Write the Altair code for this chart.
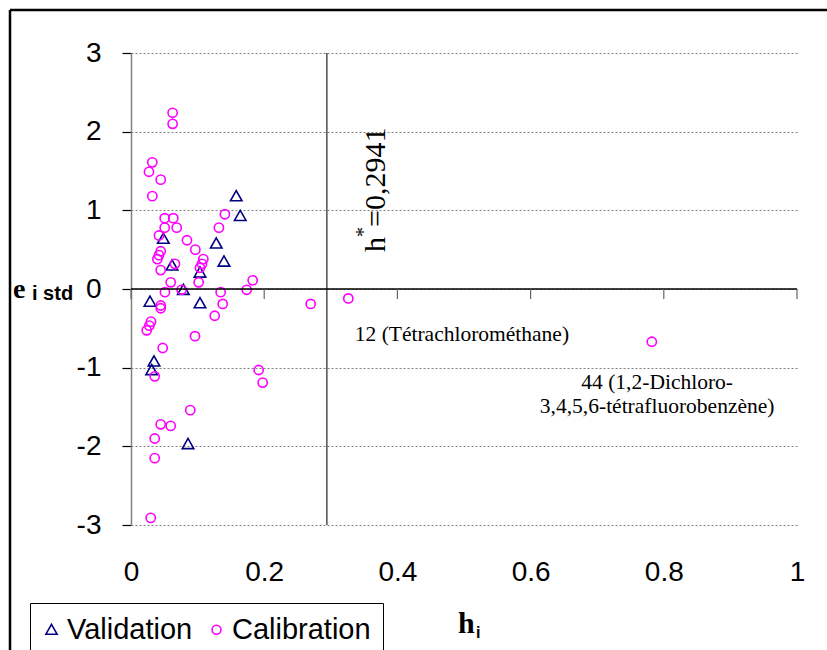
import altair as alt
import pandas as pd

SANS = "Liberation Sans"
SERIF = "Liberation Serif"

# ---- data ----
cal_h = [0.0625, 0.0625, 0.032, 0.027, 0.0446, 0.032, 0.141, 0.0506, 0.0635, 0.132,
         0.0506, 0.0686, 0.042, 0.084, 0.0966, 0.0446, 0.042, 0.0396, 0.1086, 0.066,
         0.1066, 0.1036, 0.0446, 0.1016, 0.0596, 0.1827, 0.1737, 0.076, 0.051, 0.1346,
         0.0446, 0.0446, 0.1377, 0.1257, 0.030, 0.0275, 0.0236, 0.0961, 0.0476, 0.0356,
         0.1917, 0.1977, 0.089, 0.0446, 0.0596, 0.0356, 0.0356, 0.0296, 0.2698, 0.3263,
         0.782]
cal_e = [2.24, 2.10, 1.61, 1.49, 1.39, 1.18, 0.95, 0.90, 0.90, 0.78,
         0.78, 0.78, 0.68, 0.62, 0.50, 0.48, 0.43, 0.38, 0.38, 0.32,
         0.32, 0.27, 0.24, 0.085, 0.085, 0.11, -0.01, -0.01, -0.04, -0.04,
         -0.21, -0.245, -0.19, -0.34, -0.415, -0.466, -0.525, -0.60, -0.75, -1.11,
         -1.03, -1.19, -1.54, -1.72, -1.74, -1.90, -2.15, -2.91, -0.19, -0.12,
         -0.67]
val_h = [0.158, 0.164, 0.0486, 0.128, 0.1396, 0.0616, 0.1036, 0.0786, 0.0285, 0.1036,
         0.0345, 0.031, 0.0856]
val_e = [1.18, 0.93, 0.64, 0.58, 0.35, 0.30, 0.21, -0.01, -0.16, -0.18,
         -0.92, -1.03, -1.97]

series_names = ["Validation", "Calibration"]
h_star = [0.2941]
x_ticks = [0, 0.2, 0.4, 0.6, 0.8, 1]
y_ticks = [-3, -2, -1, 0, 1, 2, 3]

ann12_h = [0.336]
ann12_e = [-0.585]
ann12_text = ["12 (Tétrachlorométhane)"]
ann44_h = [0.79, 0.79]
ann44_e = [-1.195, -1.50]
ann44_text = ["44 (1,2-Dichloro-", "3,4,5,6-tétrafluorobenzène)"]

hs_h = [0.3814, 0.359, 0.3814]
hs_e = [0.470, 0.661, 0.788]
hs_text = ["h", "*", "=0,2941"]
hs_size = [30, 20, 30]

# ---- tables ----
pts = pd.DataFrame({
    "h": val_h + cal_h,
    "e": val_e + cal_e,
    "set": [series_names[0]] * len(val_h) + [series_names[1]] * len(cal_h),
})
hstar_df = pd.DataFrame({"h": h_star})
tick_df = pd.DataFrame({"h": x_ticks})
ann12_df = pd.DataFrame({"h": ann12_h, "e": ann12_e, "label": ann12_text})
ann44_df = pd.DataFrame({"h": ann44_h, "e": ann44_e, "label": ann44_text})
hs_df = pd.DataFrame({"h": hs_h, "e": hs_e, "label": hs_text, "fs": hs_size})
one_df = pd.DataFrame({"k": [0]})

xs = alt.Scale(domain=[0, 1], nice=False, zero=False)
ys = alt.Scale(domain=[-3, 3], nice=False, zero=False)

TRI = "M0,-1.2L1.25,1L-1.25,1Z"

points = alt.Chart(pts).mark_point(filled=False, strokeWidth=1.6, size=85, opacity=1).encode(
    x=alt.X("h:Q", scale=xs, axis=alt.Axis(
        values=x_ticks, labelExpr="'' + datum.value", domain=False, ticks=False, tickSize=0,
        grid=False, labelPadding=33, labelFontSize=28, labelFont=SANS, labelColor="black",
        labelFlush=False, labelOverlap=False, title=None)),
    y=alt.Y("e:Q", scale=ys, axis=alt.Axis(
        values=y_ticks, labelExpr="'' + datum.value", domainColor="#808080", domainWidth=1.5,
        tickColor="black", tickSize=9, tickWidth=1.2, grid=True, gridColor="#808080",
        gridDash=[2, 2], gridWidth=1, labelPadding=21, labelFontSize=28, labelFont=SANS,
        labelColor="black", labelFlush=False, labelOverlap=False, title=None)),
    color=alt.Color("set:N", scale=alt.Scale(domain=series_names, range=["#000080", "#FF00FF"]),
                    legend=alt.Legend(title=None)),
    shape=alt.Shape("set:N", scale=alt.Scale(domain=series_names, range=[TRI, "circle"]),
                    legend=alt.Legend(title=None)),
)

hstar_rule = alt.Chart(hstar_df).mark_rule(color="#333333", strokeWidth=1.3).encode(
    x=alt.X("h:Q", scale=xs), y=alt.datum(-3), y2=alt.datum(3))

xaxis_line = alt.Chart(one_df).mark_rule(color="black", strokeWidth=1.3).encode(
    x=alt.datum(0), x2=alt.datum(1), y=alt.datum(0))

xaxis_ticks = alt.Chart(tick_df).mark_rule(color="#666666", strokeWidth=1.2, y2Offset=10).encode(
    x=alt.X("h:Q", scale=xs), y=alt.datum(0), y2=alt.datum(0))

ann12 = alt.Chart(ann12_df).mark_text(font=SERIF, fontSize=21.5, color="black",
                                      baseline="middle", align="left").encode(
    x=alt.X("h:Q", scale=xs), y=alt.Y("e:Q", scale=ys), text="label:N")
ann44 = alt.Chart(ann44_df).mark_text(font=SERIF, fontSize=21.5, color="black",
                                      baseline="middle", align="center").encode(
    x=alt.X("h:Q", scale=xs), y=alt.Y("e:Q", scale=ys), text="label:N")

hs = alt.Chart(hs_df).mark_text(font=SERIF, color="black", angle=270, align="left",
                                baseline="alphabetic").encode(
    x=alt.X("h:Q", scale=xs), y=alt.Y("e:Q", scale=ys), text="label:N",
    size=alt.Size("fs:Q", scale=None, legend=None))

# axis titles (outside plot area)
e_lbl = alt.Chart(one_df).mark_text(text="e", font=SERIF, fontWeight="bold", fontSize=28,
                                    align="left", baseline="alphabetic", color="black").encode(
    x=alt.value(-118), y=alt.value(245))
istd_lbl = alt.Chart(one_df).mark_text(text="i std", font=SANS, fontWeight="bold", fontSize=20,
                                       align="left", baseline="alphabetic", color="black").encode(
    x=alt.value(-99), y=alt.value(247))
h_lbl = alt.Chart(one_df).mark_text(text="h", font=SERIF, fontWeight="bold", fontSize=30,
                                    align="left", baseline="alphabetic", color="black").encode(
    x=alt.value(327), y=alt.value(580))
i_lbl = alt.Chart(one_df).mark_text(text="i", font=SANS, fontWeight="bold", fontSize=16,
                                    align="left", baseline="alphabetic", color="black").encode(
    x=alt.value(345), y=alt.value(585))

# outer frame (top and left edges)
frame_top = alt.Chart(one_df).mark_rule(color="black", strokeWidth=2.5).encode(
    x=alt.value(-121), x2=alt.value(700), y=alt.value(-43))
frame_left = alt.Chart(one_df).mark_rule(color="black", strokeWidth=2.5).encode(
    x=alt.value(-121), y=alt.value(-43), y2=alt.value(600))

chart = alt.layer(
    points, hstar_rule, xaxis_line, xaxis_ticks, ann12, ann44, hs,
    e_lbl, istd_lbl, h_lbl, i_lbl, frame_top, frame_left
).properties(
    width=666, height=472,
    autosize=alt.AutoSizeParams(type="none"),
    padding={"left": 131, "top": 53, "right": 30, "bottom": 125},
    background="white",
).configure_view(stroke=None).configure_legend(
    orient="none", legendX=-101, legendY=550, direction="horizontal",
    strokeColor="black", fillColor="white", padding=12, labelFontSize=29, labelFont=SANS,
    labelColor="black", symbolSize=80, symbolStrokeWidth=1.6, columnPadding=14,
    labelOffset=1, symbolOffset=-5,
)

chart.save("out.html", embed_options={"renderer": "svg", "actions": False})
